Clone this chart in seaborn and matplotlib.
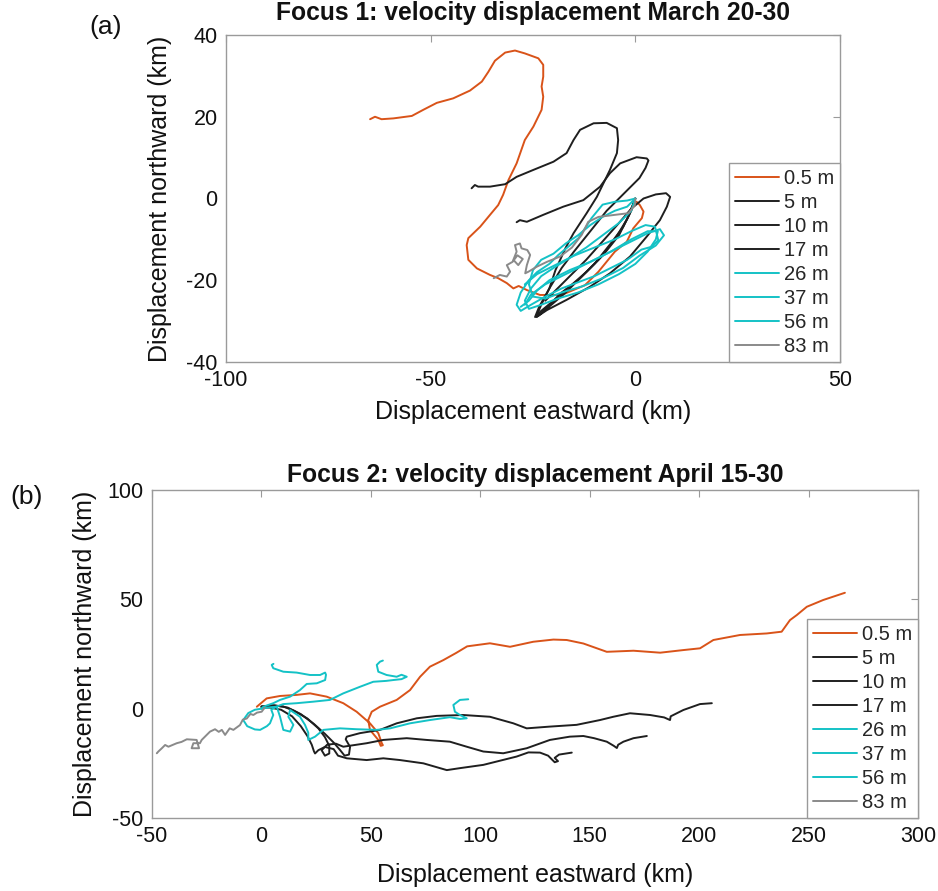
import numpy as np
import pandas as pd
import matplotlib
matplotlib.use('Agg')
import matplotlib.pyplot as plt
import seaborn as sns

# ── Depth levels / colours ───────────────────────────────────
depths = ['0.5 m', '5 m', '10 m', '17 m', '26 m', '37 m', '56 m', '83 m']
colors = ['#D95319', '#1f1f1f', '#1f1f1f', '#1f1f1f',
          '#14C2C6', '#14C2C6', '#14C2C6', '#8a8a8a']

# ── Panel (a): Focus 1, March 20-30 (km) ─────────────────────
a_05_x = [0.3, 1.1, 2.0, 1.6, -0.5, -2.1, -5.0, -9.0, -12.3, -18.0, -23.3, -26.5, -28.5, -29.8,
          -31.4, -33.5, -35.5, -38.7, -40.8, -41.2, -40.8, -37.9, -35.5, -33.5, -32.3, -31.0,
          -29.0, -27.0, -24.9, -22.9, -22.5, -22.9, -22.5, -22.5, -23.7, -27.0, -29.4, -31.8,
          -34.3, -35.9, -37.5, -40.4, -44.5, -48.5, -51.8, -54.6, -59.1, -62.0, -63.6, -64.8]
a_05_y = [-0.8, -1.6, -3.2, -4.8, -7.3, -10.6, -13.0, -17.9, -21.2, -23.6, -23.6, -22.4, -21.4, -22.0,
          -20.7, -19.5, -18.7, -17.1, -15.0, -11.4, -9.7, -6.9, -4.0, -1.6, 0.9, 4.5,
          8.6, 14.3, 17.6, 21.7, 24.9, 27.4, 29.8, 32.7, 34.3, 35.5, 36.2, 35.7,
          33.7, 31.0, 28.6, 26.4, 24.5, 23.4, 21.7, 20.2, 19.6, 19.4, 20.0, 19.4]

a_5_x = [0, -1, -3, -6, -10, -14, -18, -21, -23.5, -24.2, -23, -21, -19.5, -17, -15.1, -11.9, -9.4,
         -7.8, -6.2, -4.5, -4.2, -4.5, -7.0, -10.2, -13.5, -15.1, -16.8, -20.0, -24.9, -29.0,
         -31.8, -35.5, -38.4, -39.2, -40.0]
a_5_y = [0, -3, -7, -11, -16, -20, -23, -26, -28.5, -29, -26, -22, -17.5, -12, -8.5, -3.6, 0.4,
         3.7, 7.0, 11.1, 14.3, 17.2, 18.5, 18.4, 16.8, 14.3, 11.1, 9.0, 7.0, 5.3,
         3.5, 2.9, 2.9, 3.3, 2.5]

a_10_x = [0, -1.5, -4, -8, -12, -16, -20, -23, -24.5, -23.5, -21, -18, -15, -11, -7, -4, -1, 1,
          2.5, 3.2, 2.8, 0.3, -3.7, -6.2, -8.6, -12.7, -17.6, -22.5, -26.5, -28.2, -29.0]
a_10_y = [0, -4, -9, -14, -18, -21.5, -25, -27.5, -29, -26.5, -22, -17, -13, -8, -3, 0, 3, 5,
          7.5, 9.3, 9.8, 10.1, 8.6, 6.2, 2.9, -0.4, -2.0, -4.0, -5.7, -5.3, -5.8]

a_17_x = [0, -2, -5, -9, -13, -17, -20.5, -23.5, -24, -21.6, -16.8, -11.1, -6.2, -1.3, 2.8, 6.0,
          7.7, 8.5, 7.5, 5, 2, -1, -4, -8, -12, -16, -19, -22]
a_17_y = [0, -5, -10, -15, -19, -23, -26, -28.5, -28.9, -27.3, -24.8, -21.6, -18.3, -14.2, -9.3,
          -5.3, -2.0, 0.4, 1.3, 1.0, 0, -2.5, -6, -10.5, -15, -19, -22, -25]

a_26_x = [0, -2, -5, -8, -10.7, -12.3, -13.9, -16.4, -18.8, -21, -24, -26, -28, -29, -28, -25.5,
          -22, -18, -14, -10, -6, -2, 1.5, 4, 5.6, 4.8, 2.5, -1, -5, -10, -15, -20, -24, -27]
a_26_y = [0, -0.5, -0.8, -1.5, -4.8, -7.3, -9.7, -11.8, -13.8, -16, -18, -20, -23, -26, -27.5,
          -26, -24, -22, -20.5, -19, -17, -15, -12.5, -11.8, -10.2, -6.9, -6.5, -8, -10, -12,
          -14, -16.5, -18.5, -21]

a_37_x = [0, -1, -4, -8, -12, -16, -20, -23, -25.5, -27, -26, -23, -19, -14, -9, -4, 0, 3, 5,
          5.5, 3, -1, -6, -11, -16, -21, -24, -26, -28]
a_37_y = [0, -3, -6, -9, -12, -14.5, -17, -19, -22, -25, -27, -26, -24.5, -23, -21, -18.5, -16,
          -13, -10, -8, -8, -10, -13, -15.5, -17.5, -20, -22.5, -25, -26.5]

a_56_x = [0, -2, -5, -8, -11, -14, -17, -20, -23, -25, -26, -25, -22, -18, -13, -8, -3, 1, 5, 7,
          6, 3, -2, -7, -12, -17, -22, -25.5, -27]
a_56_y = [0, -2, -3, -4.5, -6.5, -9, -11, -13.5, -15, -17.5, -21, -24, -24.5, -23, -21.5, -19.5,
          -17, -14, -11.5, -9, -7.5, -8.5, -11, -13.5, -16, -18.5, -21, -23.5, -26]

a_83_x = [0, -0.1, -1.7, -5, -9, -11.5, -13.1, -15.5, -18.4, -21.6, -24.1, -26.1, -26.9, -26.5,
          -25.7, -26.4, -27.8, -28.2, -29.4, -29.0, -29.8, -28.6, -27.5, -28.8, -30.0, -31.4,
          -30.6, -31.4, -33.1, -34.6]
a_83_y = [0, -1.6, -3.6, -4.0, -4.5, -5.7, -8.9, -12.0, -14.2, -15.5, -16.7, -17.9, -18.3, -16.3,
          -13.8, -12.6, -12.2, -11.0, -11.4, -13.0, -15.0, -16.3, -14.8, -13.9, -15.5, -16.3,
          -17.9, -19.1, -18.7, -19.5]

# ── Panel (b): Focus 2, April 15-30 (km) ─────────────────────
b_05_x = [-2.1, 2.4, 8.5, 16.1, 22.2, 29.8, 37.4, 43.5, 49.6, 53.4, 55.0, 55.5, 54.5, 53.4, 49.6,
          48.8, 50.4, 54.2, 61.8, 67.9, 72.5, 77.0, 83.1, 89.0, 94.0, 104.4, 113.6, 124.2,
          133.4, 139.5, 147.1, 157.8, 170.0, 182.2, 192.8, 200.4, 206.5, 218.7, 230.9, 237.7,
          241.5, 244.6, 249.2, 256.7, 266.6]
b_05_y = [0.9, 4.7, 5.8, 6.3, 7.0, 5.5, 2.5, -1.4, -6.7, -11.2, -15.8, -16.7, -17.0, -14.3, -9.7,
          -5.2, -1.4, 0.9, 4.0, 8.5, 14.6, 19.2, 22.2, 25.5, 28.5, 29.9, 28.3, 30.6,
          31.6, 31.4, 29.8, 26.0, 26.5, 25.6, 26.8, 27.6, 31.4, 33.7, 34.4, 35.2,
          40.5, 42.8, 46.6, 49.7, 53.0]

b_5_x = [0, 6, 12, 18, 24, 29, 33, 36, 38, 40, 40.5, 38.5, 39, 45, 54.2, 61.8, 71, 80.1, 92.2,
         104.4, 115.1, 121.2, 131.8, 144, 154.7, 160.8, 168.4, 177.6, 184, 186.7, 187, 192.8,
         200.4, 205.8]
b_5_y = [1, 1.5, 0.5, -2.5, -7, -11.5, -15.5, -19, -21.5, -21, -17.5, -14, -12.8, -11.2, -9.7,
         -6.7, -4.4, -3.3, -2.9, -3.7, -6.7, -9.0, -8.2, -7.4, -5.2, -3.7, -2.1, -2.9, -4.0,
         -5.2, -3.5, -0.6, 2.1, 2.5]

b_10_x = [0, 5, 10, 15, 21, 26, 29, 31, 31, 29, 27.5, 30, 34, 37.4, 48.1, 55.7, 66.4, 75.5,
          86.1, 93.8, 101.4, 110.5, 121.2, 131.8, 140.9, 147.1, 152, 157.8, 161, 162.4, 163,
          165.4, 170, 176.1]
b_10_y = [1, 1.5, 1, -1, -4.5, -9, -13, -17, -20.5, -21.5, -19, -16.5, -16, -17.4, -15.8, -14.3,
          -13.5, -14.3, -15.1, -17.4, -19.6, -20.4, -18.1, -14.3, -12.8, -12.5, -13.5, -15.1,
          -17, -18, -16.5, -15.1, -13.5, -12.5]

b_17_x = [0, 4, 9, 14, 18, 21, 23, 24, 24.5, 26, 29, 33, 35, 39, 48.1, 55.7, 63.3, 74, 84.7,
          90.7, 101.4, 116.6, 122, 127.3, 131, 134, 135.5, 134, 136, 141.8]
b_17_y = [0.5, 0.5, -0.5, -3.5, -8, -12.5, -16.5, -19.5, -20.5, -19, -17.5, -18.5, -21.5, -22.7,
          -23.5, -22.7, -23.5, -25, -28.1, -27.2, -25.7, -21.9, -20, -20.1, -21.5, -24.5, -24,
          -22.5, -21, -20.1]

b_26_x = [0, 0.9, 5.4, 8.5, 13.1, 17.6, 20.7, 25.3, 29.1, 29.5, 29.1, 26.8, 22.2, 16.1, 10.0,
          5.4, 4.7, 5.5]
b_26_y = [0, 0.9, 2.5, 4.0, 5.5, 8.5, 11.3, 11.6, 13.1, 15.5, 16.5, 15.4, 15.4, 16.5, 16.9,
          18.5, 20.0, 20.5]

b_37_x = [0, -3, -6, -8.3, -6.5, -3, -0.6, 2.5, 3.9, 5.4, 4.5, 7, 10, 16.1, 23.7, 31.3, 37.4,
          45, 51.1, 57, 60.3, 64, 66.4, 64, 61.8, 57.2, 53.4, 52.7, 54.2, 55.5]
b_37_y = [0, -0.5, -2, -5.2, -8, -9.5, -9.7, -8, -6.7, -2.9, -0.5, 1, 2.1, 2.5, 3.2, 4.0, 7.0,
          10, 12.3, 12.7, 13.1, 13.5, 14.6, 15.5, 14.6, 15.4, 16.9, 20, 21.5, 22]

b_56_x = [0, 3, 7, 8.5, 10, 13.1, 14.6, 12.3, 13.1, 17.6, 19.9, 21.4, 21.4, 24.5, 28.3, 35.9,
          43.5, 52.7, 58.8, 67.9, 77.0, 86.1, 90.7, 93.8, 90.7, 88.4, 87.7, 90.7, 94.5]
b_56_y = [0, 0.5, 0.9, -3.7, -9.7, -10.5, -7.4, -3.7, -0.6, -3.7, -7.4, -11, -14.3, -12.8, -9.7,
          -9.0, -9.4, -9.7, -9.0, -6.7, -5.2, -3.9, -4.7, -4.4, -2.9, -1.4, 1.7, 4.0, 4.3]

b_83_x = [1.5, 0.1, -2.0, -3.7, -5.0, -6.7, -8.5, -9.8, -12.8, -14.5, -16.6, -18.1, -19.5, -21.2,
          -23.5, -25.8, -27.3, -28.1, -31.1, -31.9, -28.5, -29.6, -34.1, -36.5, -38.7, -42.5,
          -44.0, -45.5, -47.1, -47.8]
b_83_y = [0.5, -1.4, -1.8, -2.9, -2.4, -4.5, -5.0, -7.5, -9.7, -9.0, -12.0, -9.7, -10.6, -9.4,
          -10.5, -12.8, -14.3, -15.8, -15.8, -18.1, -18.1, -14.3, -14.0, -15.2, -15.8, -17.4,
          -16.6, -18.1, -19.6, -20.4]

panel_a = [(a_05_x, a_05_y), (a_5_x, a_5_y), (a_10_x, a_10_y), (a_17_x, a_17_y),
           (a_26_x, a_26_y), (a_37_x, a_37_y), (a_56_x, a_56_y), (a_83_x, a_83_y)]
panel_b = [(b_05_x, b_05_y), (b_5_x, b_5_y), (b_10_x, b_10_y), (b_17_x, b_17_y),
           (b_26_x, b_26_y), (b_37_x, b_37_y), (b_56_x, b_56_y), (b_83_x, b_83_y)]


def to_frame(series):
    rows = []
    for depth, (xs, ys) in zip(depths, series):
        for i, (x, y) in enumerate(zip(xs, ys)):
            rows.append({'depth': depth, 'step': i, 'x': x, 'y': y})
    return pd.DataFrame(rows)


# ── Style ─────────────────────────────────────────────────────
sns.set_theme(style='white')
plt.rcParams['font.family'] = ['Liberation Sans', 'DejaVu Sans']
plt.rcParams['axes.unicode_minus'] = False
GRAY = '#9a9a9a'
TXT = '#111111'
palette = dict(zip(depths, colors))

W, H = 938, 891
fig = plt.figure(figsize=(W / 100, H / 100), dpi=100)


def px_axes(l, t, r, b):
    return fig.add_axes([l / W, 1 - b / H, (r - l) / W, (b - t) / H])


def draw(ax, df, xlim, ylim, xticks, yticks, title, title_xy):
    sns.lineplot(data=df, x='x', y='y', hue='depth', hue_order=depths, palette=palette,
                 sort=False, estimator=None, linewidth=1.4, legend=False, ax=ax)
    ax.set_xlim(*xlim)
    ax.set_ylim(*ylim)
    ax.set_xticks(xticks)
    ax.set_yticks(yticks)
    ax.tick_params(direction='in', length=5, width=0.8, color=GRAY, labelsize=15.5,
                   top=True, right=True, pad=6, labelcolor=TXT)
    for s in ax.spines.values():
        s.set_color(GRAY)
        s.set_linewidth(1.0)
    ax.set_xlabel('Displacement eastward (km)', fontsize=18, color=TXT)
    ax.set_ylabel('Displacement northward (km)', fontsize=18, color=TXT)
    leg = ax.legend(ax.get_lines()[:len(depths)], depths, loc='lower right', fontsize=14.5,
                    frameon=True, fancybox=False, framealpha=1, edgecolor=GRAY,
                    handlelength=2.15, handletextpad=0.25, labelspacing=0.25,
                    borderpad=0.3, borderaxespad=0.0)
    leg.get_frame().set_linewidth(1.0)
    fig.text(title_xy[0] / W, 1 - title_xy[1] / H, title, fontsize=17.7, fontweight='bold',
             ha='center', va='center', color=TXT)


# ── (a) ───────────────────────────────────────────────────────
ax1 = px_axes(226, 35, 840, 362)
draw(ax1, to_frame(panel_a), (-100, 50), (-40, 40), [-100, -50, 0, 50], [-40, -20, 0, 20, 40],
     'Focus 1: velocity displacement March 20-30', (533, 13))
ax1.xaxis.set_label_coords(0.5, -0.116)
ax1.yaxis.set_label_coords(-0.088, 0.5)

# ── (b) ───────────────────────────────────────────────────────
ax2 = px_axes(152, 490, 918, 818)
draw(ax2, to_frame(panel_b), (-50, 300), (-50, 100), [-50, 0, 50, 100, 150, 200, 250, 300],
     [-50, 0, 50, 100], 'Focus 2: velocity displacement April 15-30', (535, 475))
ax2.xaxis.set_label_coords(0.5, -0.137)
ax2.yaxis.set_label_coords(-0.072, 0.5)

fig.text(106 / W, 1 - 27 / H, '(a)', fontsize=19, ha='center', va='center', color=TXT)
fig.text(27 / W, 1 - 497 / H, '(b)', fontsize=19, ha='center', va='center', color=TXT)

fig.savefig('out.png', dpi=100)
plt.close(fig)
